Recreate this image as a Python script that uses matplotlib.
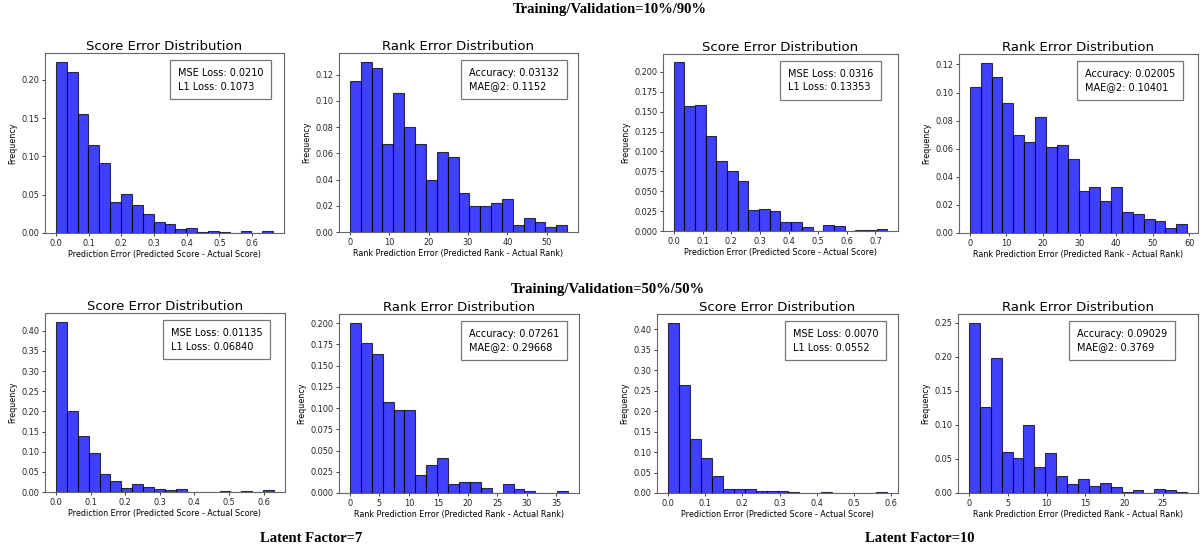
import numpy as np
import matplotlib
matplotlib.use("Agg")
import matplotlib.pyplot as plt

# histogram weights (20 bins each, share of samples)
score_lf7_10 = [0.224, 0.211, 0.155, 0.115, 0.091, 0.041, 0.051, 0.036, 0.025, 0.015,
                0.012, 0.005, 0.006, 0.001, 0.002, 0.001, 0.0, 0.002, 0.0, 0.002]
rank_lf7_10 = [0.115, 0.130, 0.125, 0.067, 0.106, 0.080, 0.067, 0.040, 0.061, 0.057,
               0.030, 0.020, 0.020, 0.022, 0.025, 0.005, 0.011, 0.0075, 0.0035, 0.005]
score_lf10_10 = [0.212, 0.157, 0.158, 0.119, 0.0876, 0.0754, 0.063, 0.0265, 0.0278, 0.0257,
                 0.0114, 0.0114, 0.0055, 0.0, 0.008, 0.0067, 0.0, 0.001, 0.001, 0.002]
rank_lf10_10 = [0.104, 0.1214, 0.1114, 0.0929, 0.070, 0.065, 0.0829, 0.0614, 0.0626, 0.0529,
                0.030, 0.0329, 0.0229, 0.0329, 0.015, 0.0138, 0.010, 0.0088, 0.0036, 0.0062]
score_lf7_50 = [0.423, 0.2017, 0.138, 0.097, 0.044, 0.027, 0.010, 0.019, 0.0125, 0.0075,
                0.004, 0.0075, 0.0, 0.0, 0.0, 0.0017, 0.0, 0.0017, 0.0, 0.004]
rank_lf7_50 = [0.2008, 0.1764, 0.1638, 0.1075, 0.0976, 0.0976, 0.0213, 0.033, 0.0413, 0.0102,
               0.0126, 0.0126, 0.0059, 0.0, 0.0102, 0.0043, 0.0024, 0.0, 0.0, 0.0024]
score_lf10_50 = [0.417, 0.264, 0.131, 0.086, 0.042, 0.0106, 0.0106, 0.0106, 0.0057, 0.0057,
                 0.004, 0.0016, 0.0, 0.0, 0.0016, 0.0, 0.0, 0.0, 0.0, 0.0016]
rank_lf10_50 = [0.25, 0.1265, 0.198, 0.0608, 0.052, 0.0995, 0.038, 0.0588, 0.0245, 0.0132,
                0.020, 0.0108, 0.015, 0.0088, 0.002, 0.0044, 0.0, 0.0064, 0.0044, 0.002]

# upper end of each histogram range
xmax = [0.664, 55.2, 0.741, 59.4, 0.63, 37.0, 0.589, 28.1]
heights = [score_lf7_10, rank_lf7_10, score_lf10_10, rank_lf10_10,
           score_lf7_50, rank_lf7_50, score_lf10_50, rank_lf10_50]
kinds = ["score", "rank", "score", "rank", "score", "rank", "score", "rank"]
box_text = ["MSE Loss: 0.0210\nL1 Loss: 0.1073",
            "Accuracy: 0.03132\nMAE@2: 0.1152",
            "MSE Loss: 0.0316\nL1 Loss: 0.13353",
            "Accuracy: 0.02005\nMAE@2: 0.10401",
            "MSE Loss: 0.01135\nL1 Loss: 0.06840",
            "Accuracy: 0.07261\nMAE@2: 0.29668",
            "MSE Loss: 0.0070\nL1 Loss: 0.0552",
            "Accuracy: 0.09029\nMAE@2: 0.3769"]

section_titles = ["Training/Validation=10%/90%", "Training/Validation=50%/50%"]
factor_labels = ["Latent Factor=7", "Latent Factor=10"]

W, H = 1202, 551
# axes boxes in pixels: left, top, right, bottom
ax_px = [(45, 53, 284, 233), (339, 53, 578, 232), (663, 54, 898, 231), (959, 54, 1198, 233),
         (45, 313, 285, 492), (339, 314, 579, 493), (657, 314, 898, 493), (958, 314, 1198, 493)]
box_x = [0.523, 0.51, 0.498, 0.494, 0.492, 0.508, 0.531, 0.463]

fig = plt.figure(figsize=(W / 100, H / 100), dpi=100)

for i in range(8):
    l, t, r, b = ax_px[i]
    ax = fig.add_axes([l / W, 1 - b / H, (r - l) / W, (b - t) / H])
    edges = np.linspace(0, xmax[i], len(heights[i]) + 1)
    ax.hist(edges[:-1], bins=edges, weights=heights[i], color="blue", alpha=0.75,
            edgecolor="black", linewidth=0.8)
    if kinds[i] == "score":
        ax.set_title("Score Error Distribution", fontsize=9.5, pad=1.5)
        ax.set_xlabel("Prediction Error (Predicted Score - Actual Score)", fontsize=5.8, labelpad=2)
    else:
        ax.set_title("Rank Error Distribution", fontsize=9.5, pad=1.5)
        ax.set_xlabel("Rank Prediction Error (Predicted Rank - Actual Rank)", fontsize=5.8, labelpad=2)
    ax.set_ylabel("Frequency", fontsize=5.8, labelpad=3)
    ax.tick_params(labelsize=5.9, length=2.5, width=0.6, pad=1.5, colors="#222222")
    for sp in ax.spines.values():
        sp.set_color("#666666")
        sp.set_linewidth(0.8)
    ax.annotate(box_text[i], xy=(box_x[i], 0.96), xycoords="axes fraction",
                xytext=(5.6, -5.6), textcoords="offset points", ha="left", va="top",
                fontsize=7, linespacing=1.45,
                bbox=dict(boxstyle="square,pad=0.8", fc="white", ec="#777777", lw=0.9))

serif = dict(family="Liberation Serif", weight="bold", fontsize=10.5)
fig.text(610 / W, 1 - 9.5 / H, section_titles[0], ha="center", va="center", **serif)
fig.text(608 / W, 1 - 289 / H, section_titles[1], ha="center", va="center", **serif)
fig.text(311 / W, 1 - 538 / H, factor_labels[0], ha="center", va="center", **serif)
fig.text(920 / W, 1 - 538 / H, factor_labels[1], ha="center", va="center", **serif)

fig.savefig("out.png", dpi=100)
